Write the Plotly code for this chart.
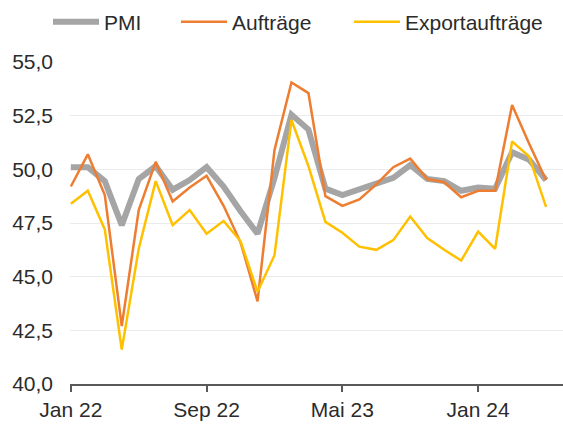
import plotly.graph_objects as go

months = ["Jan 22", "Feb 22", "Mär 22", "Apr 22", "Mai 22", "Jun 22", "Jul 22", "Aug 22",
          "Sep 22", "Okt 22", "Nov 22", "Dez 22", "Jan 23", "Feb 23", "Mär 23", "Apr 23",
          "Mai 23", "Jun 23", "Jul 23", "Aug 23", "Sep 23", "Okt 23", "Nov 23", "Dez 23",
          "Jan 24", "Feb 24", "Mär 24", "Apr 24", "Mai 24"]

pmi = [50.1, 50.1, 49.45, 47.4, 49.55, 50.15, 49.05, 49.5, 50.1, 49.2, 48.05, 47.0,
       49.6, 52.55, 51.85, 49.1, 48.8, 49.05, 49.3, 49.6, 50.2, 49.55, 49.45, 49.0,
       49.15, 49.1, 50.8, 50.45, 49.5]

auftraege = [49.2, 50.7, 48.8, 42.7, 48.1, 50.35, 48.5, 49.15, 49.7, 48.3, 46.6, 43.85,
             50.9, 54.05, 53.55, 48.75, 48.3, 48.6, 49.3, 50.1, 50.5, 49.55, 49.4, 48.7,
             49.0, 49.0, 53.0, 51.2, 49.5]

export = [48.4, 49.0, 47.2, 41.6, 46.3, 49.45, 47.4, 48.1, 47.0, 47.6, 46.65, 44.3,
          46.0, 52.3, 50.15, 47.55, 47.05, 46.4, 46.25, 46.7, 47.8, 46.8, 46.25, 45.75,
          47.1, 46.3, 51.3, 50.6, 48.25]

tick_labels = ["Jan 22", "Sep 22", "Mai 23", "Jan 24"]
y_ticks = [40.0, 42.5, 45.0, 47.5, 50.0, 52.5, 55.0]

FONT = "Liberation Sans, Arial, sans-serif"
TXT = "#2b2b2b"

fig = go.Figure()
fig.add_trace(go.Scatter(x=months, y=pmi, mode="lines", name="PMI",
                         line=dict(color="#A5A5A5", width=6), legend="legend"))
fig.add_trace(go.Scatter(x=months, y=auftraege, mode="lines", name="Aufträge",
                         line=dict(color="#ED7D31", width=2.5), legend="legend2"))
fig.add_trace(go.Scatter(x=months, y=export, mode="lines", name="Exportaufträge",
                         line=dict(color="#FFC000", width=2.5), legend="legend3"))

leg_common = dict(orientation="h", xref="container", yref="container",
                  xanchor="left", yanchor="middle", y=1 - 22 / 426,
                  itemwidth=46,
                  font=dict(family=FONT, size=21, color=TXT),
                  bgcolor="rgba(0,0,0,0)", borderwidth=0)

fig.update_layout(
    width=563, height=426,
    margin=dict(l=70, r=0, t=62, b=42),
    paper_bgcolor="white", plot_bgcolor="white",
    separators=",.",
    font=dict(family=FONT, size=21, color=TXT),
    showlegend=True,
    legend=dict(x=48 / 563, **leg_common),
    legend2=dict(x=176 / 563, **leg_common),
    legend3=dict(x=349 / 563, **leg_common),
    xaxis=dict(type="category", categoryorder="array", categoryarray=months,
               range=[-0.05, 29], tickmode="array", tickvals=tick_labels,
               ticktext=tick_labels, showgrid=False, showline=True,
               linecolor="#595959", linewidth=1.5, ticks="outside", ticklen=6,
               tickcolor="#595959", tickwidth=1.5, zeroline=False,
               tickfont=dict(family=FONT, size=21, color=TXT)),
    yaxis=dict(range=[40, 55], tickvals=y_ticks, tickformat=".1f",
               showgrid=True, gridcolor="#EBEBEB", gridwidth=1, zeroline=False,
               showline=False, ticks="", ticklabelstandoff=16,
               tickfont=dict(family=FONT, size=21, color=TXT)),
)

fig.write_html("out.html", config={"displayModeBar": False},
               post_script="document.body.style.margin='0px';")
